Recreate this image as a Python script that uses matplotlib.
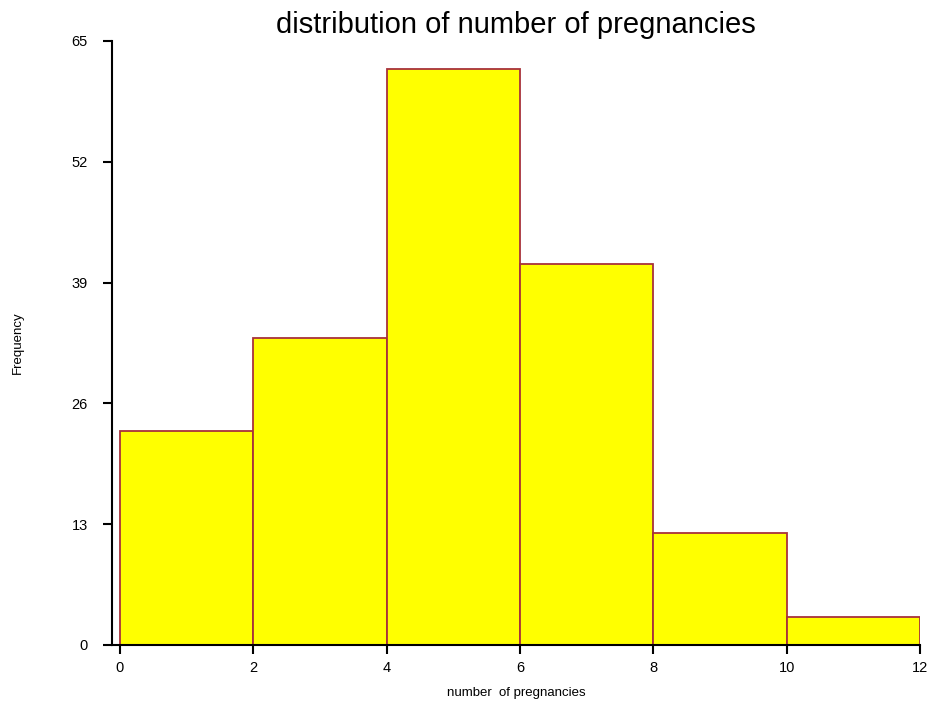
import matplotlib
matplotlib.use("Agg")
from matplotlib import pyplot as plt

bin_edges = [0, 2, 4, 6, 8, 10, 12]
counts = [23, 33, 62, 41, 12, 3]
y_ticks = [0, 13, 26, 39, 52, 65]
x_ticks = [0, 2, 4, 6, 8, 10, 12]

plt.rcParams["font.family"] = ["Liberation Sans", "DejaVu Sans"]

fig = plt.figure(figsize=(9.32, 7.13), dpi=100)
ax = fig.add_axes([112 / 932, 1 - 645 / 713, (920 - 112) / 932, (645 - 41) / 713])

widths = [bin_edges[i + 1] - bin_edges[i] for i in range(len(counts))]
ax.bar(bin_edges[:-1], counts, width=widths, align="edge",
       color="#FFFF00", edgecolor="#A8323A", linewidth=1.3, zorder=2)

ax.set_xlim(-0.12, 12)
ax.set_ylim(0, 65)
ax.set_xticks(x_ticks)
ax.set_yticks(y_ticks)
ax.tick_params(axis="both", direction="out", length=6.5, width=1.5, labelsize=10.5)
ax.tick_params(axis="x", pad=5)
ax.tick_params(axis="y", pad=11)
for side in ["top", "right"]:
    ax.spines[side].set_visible(False)
for side in ["left", "bottom"]:
    ax.spines[side].set_linewidth(1.5)
    ax.spines[side].set_zorder(3)

ax.set_title("distribution of number of pregnancies", fontsize=21, pad=6)
ax.set_xlabel("number  of pregnancies", fontsize=9.5, labelpad=9)
ax.set_ylabel("Frequency", fontsize=9.5, labelpad=34)

fig.savefig("out.png", dpi=100)
